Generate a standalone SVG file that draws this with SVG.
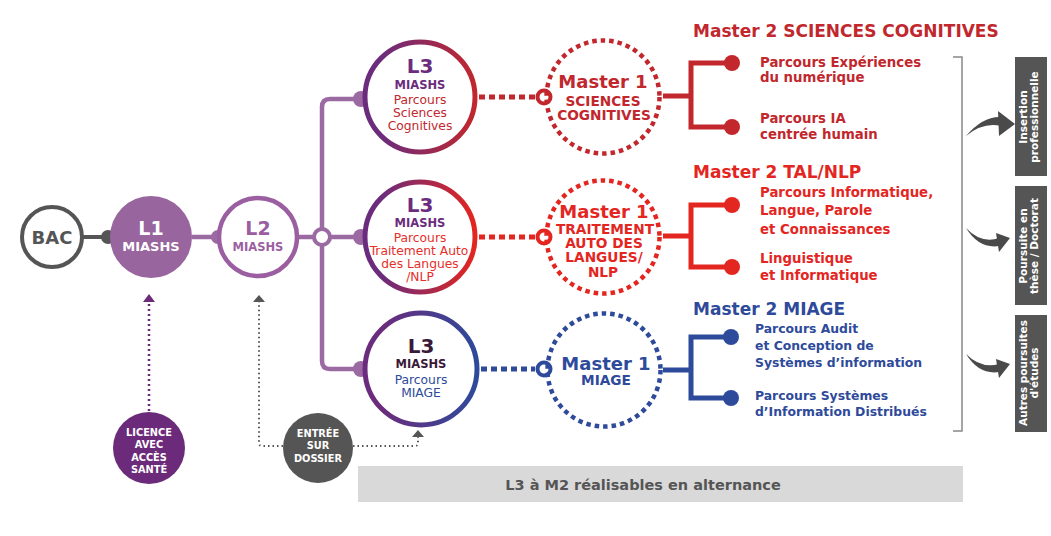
<svg xmlns="http://www.w3.org/2000/svg" width="1051" height="536" viewBox="0 0 1051 536">
<defs>
<style>
text{font-family:'DejaVu Sans','Liberation Sans',sans-serif;}
.b{font-weight:bold;}
.m{text-anchor:middle;}
.pl{fill:none;stroke:#9C6AA3;stroke-width:4.5;}
.pd{fill:#9C6AA3;}
.l3t{font-size:20px;font-weight:bold;text-anchor:middle;}
.l3m{font-size:11.5px;font-weight:bold;text-anchor:middle;}
.l3p{font-size:12.3px;text-anchor:middle;}
.m1t{font-size:18px;font-weight:bold;text-anchor:middle;}
.m1s{font-size:13.7px;font-weight:bold;text-anchor:middle;}
.m2h{font-size:17px;font-weight:bold;}
.pr{font-size:13.3px;font-weight:bold;}
.pb{font-size:12.4px;font-weight:bold;}
.bx{fill:#555555;}
.bxt{font-size:10.5px;font-weight:bold;fill:#ffffff;text-anchor:middle;}
.sm{font-size:9.8px;font-weight:bold;fill:#ffffff;text-anchor:middle;}
.sw{fill:#4a4a4a;}
</style>
<linearGradient id="gTop" x1="0" y1="0" x2="1" y2="0"><stop offset="0.15" stop-color="#6B2C7D"/><stop offset="1" stop-color="#C1272D"/></linearGradient>
<linearGradient id="gMid" x1="0" y1="0" x2="1" y2="0"><stop offset="0.15" stop-color="#6B2C7D"/><stop offset="1" stop-color="#E3261F"/></linearGradient>
<linearGradient id="gBot" x1="0" y1="0" x2="1" y2="0"><stop offset="0.15" stop-color="#6B2C7D"/><stop offset="1" stop-color="#2E4A9A"/></linearGradient>
</defs>
<rect width="1051" height="536" fill="#ffffff"/>

<g id="connectors">
  <line x1="82" y1="237" x2="110" y2="237" stroke="#555555" stroke-width="4"/>
  <circle cx="108" cy="237" r="7" fill="#555555"/>
  <line x1="192" y1="237" x2="218" y2="237" class="pl"/>
  <circle cx="218" cy="237" r="7" class="pd"/>
  <line x1="299" y1="237" x2="314" y2="237" class="pl"/>
  <path d="M361 99 H330 Q322 99 322 107 V361 Q322 369 330 369 H361" class="pl"/>
  <line x1="330" y1="237" x2="361" y2="237" class="pl"/>
  <circle cx="322" cy="237" r="8" fill="#ffffff" stroke="#9C6AA3" stroke-width="4"/>
  <circle cx="361" cy="99" r="8" class="pd"/>
  <circle cx="361" cy="237" r="8" class="pd"/>
  <circle cx="361" cy="369" r="8" class="pd"/>
  <line x1="479" y1="97" x2="535" y2="97" stroke="#C1272D" stroke-width="5" stroke-dasharray="6 4"/>
  <circle cx="544" cy="97" r="6.5" fill="#ffffff" stroke="#C1272D" stroke-width="4"/>
  <line x1="479" y1="237" x2="535" y2="237" stroke="#E3261F" stroke-width="5" stroke-dasharray="6 4"/>
  <circle cx="544" cy="237" r="6.5" fill="#ffffff" stroke="#E3261F" stroke-width="4"/>
  <line x1="481" y1="369" x2="535" y2="369" stroke="#2E4A9A" stroke-width="5" stroke-dasharray="6 4"/>
  <circle cx="544" cy="369" r="6.5" fill="#ffffff" stroke="#2E4A9A" stroke-width="4"/>
  <path d="M663 96 H691 M732 63 H691 V127 H732" fill="none" stroke="#C1272D" stroke-width="5"/>
  <circle cx="732" cy="63" r="8" fill="#C1272D"/>
  <circle cx="732" cy="127" r="8" fill="#C1272D"/>
  <path d="M663 236 H691 M732 205 H691 V267 H732" fill="none" stroke="#E3261F" stroke-width="5"/>
  <circle cx="732" cy="205" r="8" fill="#E3261F"/>
  <circle cx="732" cy="267" r="8" fill="#E3261F"/>
  <path d="M663 370 H691 M731 337 H691 V398 H731" fill="none" stroke="#2E4A9A" stroke-width="5"/>
  <circle cx="731" cy="337" r="8" fill="#2E4A9A"/>
  <circle cx="731" cy="398" r="8" fill="#2E4A9A"/>
  <line x1="149" y1="411" x2="149" y2="302" stroke="#6C2A7A" stroke-width="2.5" stroke-dasharray="2 3"/>
  <polygon points="143,302 155,302 149,294" fill="#6C2A7A"/>
  <path d="M283 446 H262 Q259 446 259 443 V302" fill="none" stroke="#555555" stroke-width="2" stroke-dasharray="1.5 3"/>
  <polygon points="253,302 265,302 259,295" fill="#555555"/>
  <path d="M353 446 H415 Q418 446 418 443 V437" fill="none" stroke="#555555" stroke-width="2" stroke-dasharray="1.5 3"/>
  <polygon points="412,437 424,437 418,430" fill="#555555"/>
  <path d="M953 57 H962 V431 H953" fill="none" stroke="#888888" stroke-width="1.5"/>
  <path class="sw" d="M966 136 Q983 116 1001 117 L1001 126 Q983 122 966 136 Z"/>
  <polygon class="sw" points="998,111 1015,124 999,136"/>
  <path class="sw" d="M966 228 Q981 244 999 238 L999 246 Q979 249 966 228 Z"/>
  <polygon class="sw" points="996,233 1010,238 999,252"/>
  <path class="sw" d="M966 354 Q981 369 999 364 L999 372 Q979 375 966 354 Z"/>
  <polygon class="sw" points="996,359 1010,364 999,378"/>
</g>

<g id="bac">
  <circle cx="52" cy="237" r="30" fill="#ffffff" stroke="#555555" stroke-width="4"/>
  <text x="52" y="244" class="b m" font-size="18" fill="#555555">BAC</text>
</g>
<g id="l1">
  <circle cx="151" cy="237" r="41" fill="#98659E"/>
  <text x="151" y="235" class="b m" font-size="19" fill="#ffffff">L1</text>
  <text x="151" y="251" class="b m" font-size="13" fill="#ffffff">MIASHS</text>
</g>
<g id="l2">
  <circle cx="258" cy="237" r="39" fill="#ffffff" stroke="#9B5EA1" stroke-width="4.5"/>
  <text x="258" y="235" class="b m" font-size="19" fill="#9B5EA1">L2</text>
  <text x="258" y="251" class="b m" font-size="11.5" fill="#9B5EA1">MIASHS</text>
</g>

<g id="l3-sc">
  <circle cx="420" cy="97" r="55" fill="#ffffff" stroke="url(#gTop)" stroke-width="5"/>
  <text x="420" y="73" class="l3t" fill="#6B2C7D">L3</text>
  <text x="420" y="89" class="l3m" fill="#6B2C7D">MIASHS</text>
  <text x="420" y="104" class="l3p" fill="#C1272D">Parcours</text>
  <text x="420" y="117" class="l3p" fill="#C1272D">Sciences</text>
  <text x="420" y="130" class="l3p" fill="#C1272D">Cognitives</text>
</g>
<g id="l3-tal">
  <circle cx="420" cy="237" r="55" fill="#ffffff" stroke="url(#gMid)" stroke-width="5"/>
  <text x="420" y="212" class="l3t" fill="#6B2C7D">L3</text>
  <text x="420" y="227" class="l3m" fill="#6B2C7D">MIASHS</text>
  <text x="420" y="242" class="l3p" fill="#E5302A">Parcours</text>
  <text x="419" y="255" class="l3p" fill="#E5302A">Traitement Auto</text>
  <text x="420" y="268" class="l3p" fill="#E5302A">des Langues</text>
  <text x="420" y="281" class="l3p" fill="#E5302A">/NLP</text>
</g>
<g id="l3-miage">
  <circle cx="421" cy="369" r="56" fill="#ffffff" stroke="url(#gBot)" stroke-width="5"/>
  <text x="421" y="353" class="l3t" fill="#3A1838">L3</text>
  <text x="421" y="368" class="l3m" fill="#3A1838">MIASHS</text>
  <text x="421" y="384" class="l3p" fill="#2E4A9A">Parcours</text>
  <text x="421" y="397" class="l3p" fill="#2E4A9A">MIAGE</text>
</g>

<g id="m1-sc">
  <circle cx="603" cy="97" r="56.5" fill="none" stroke="#C1272D" stroke-width="4.5" stroke-dasharray="4.5 4"/>
  <text x="603" y="88" class="m1t" fill="#C1272D">Master 1</text>
  <text x="603" y="106" class="m1s" fill="#C1272D">SCIENCES</text>
  <text x="604" y="120" class="m1s" fill="#C1272D">COGNITIVES</text>
</g>
<g id="m1-tal">
  <circle cx="603" cy="237" r="56.5" fill="none" stroke="#E3261F" stroke-width="4.5" stroke-dasharray="4.5 4"/>
  <text x="604" y="218" class="m1t" fill="#E3261F">Master 1</text>
  <text x="605" y="234" class="m1s" fill="#E3261F">TRAITEMENT</text>
  <text x="604" y="248" class="m1s" fill="#E3261F">AUTO DES</text>
  <text x="604" y="262" class="m1s" fill="#E3261F">LANGUES/</text>
  <text x="603" y="277" class="m1s" fill="#E3261F">NLP</text>
</g>
<g id="m1-miage">
  <circle cx="604" cy="370" r="56.5" fill="none" stroke="#2E4A9A" stroke-width="4.5" stroke-dasharray="4.5 4"/>
  <text x="606" y="370" class="m1t" fill="#2E4A9A">Master 1</text>
  <text x="606" y="385" class="m1s" fill="#2E4A9A">MIAGE</text>
</g>

<g id="m2-sc">
  <text x="693" y="37" class="m2h" fill="#C1272D">Master 2 SCIENCES COGNITIVES</text>
  <text x="760" y="67" class="pr" fill="#C1272D">Parcours Expériences</text>
  <text x="760" y="82" class="pr" fill="#C1272D">du numérique</text>
  <text x="760" y="123" class="pr" fill="#C1272D">Parcours IA</text>
  <text x="760" y="139" class="pr" fill="#C1272D">centrée humain</text>
</g>
<g id="m2-tal">
  <text x="693" y="178" class="m2h" fill="#E3261F">Master 2 TAL/NLP</text>
  <text x="760" y="197" class="pr" fill="#E3261F">Parcours Informatique,</text>
  <text x="760" y="215" class="pr" fill="#E3261F">Langue, Parole</text>
  <text x="760" y="234" class="pr" fill="#E3261F">et Connaissances</text>
  <text x="760" y="263" class="pr" fill="#E3261F">Linguistique</text>
  <text x="760" y="280" class="pr" fill="#E3261F">et Informatique</text>
</g>
<g id="m2-miage">
  <text x="693" y="315" class="m2h" fill="#2E4A9A">Master 2 MIAGE</text>
  <text x="755" y="333" class="pb" fill="#2E4A9A">Parcours Audit</text>
  <text x="755" y="350" class="pb" fill="#2E4A9A">et Conception de</text>
  <text x="755" y="367" class="pb" fill="#2E4A9A">Systèmes d’information</text>
  <text x="755" y="400" class="pb" fill="#2E4A9A">Parcours Systèmes</text>
  <text x="755" y="416" class="pb" fill="#2E4A9A">d’Information Distribués</text>
</g>

<g id="out-insertion">
  <rect x="1015" y="57" width="32" height="119" class="bx"/>
  <g transform="translate(1031 117) rotate(-90)">
    <text x="0" y="-4" class="bxt">Insertion</text>
    <text x="0" y="7" class="bxt">professionnelle</text>
  </g>
</g>
<g id="out-these">
  <rect x="1015" y="186" width="32" height="119" class="bx"/>
  <g transform="translate(1031 246) rotate(-90)">
    <text x="0" y="-4" class="bxt">Poursuite en</text>
    <text x="0" y="7" class="bxt">thèse / Doctorat</text>
  </g>
</g>
<g id="out-autres">
  <rect x="1015" y="315" width="32" height="117" class="bx"/>
  <g transform="translate(1031 373) rotate(-90)">
    <text x="0" y="-4" class="bxt">Autres poursuites</text>
    <text x="0" y="7" class="bxt">d'études</text>
  </g>
</g>

<g id="licence-sante">
  <circle cx="149" cy="448" r="36" fill="#6C2A7A"/>
  <text x="149" y="436" class="sm">LICENCE</text>
  <text x="149" y="448" class="sm">AVEC</text>
  <text x="149" y="461" class="sm">ACCÈS</text>
  <text x="149" y="473" class="sm">SANTÉ</text>
</g>
<g id="entree-dossier">
  <circle cx="318" cy="448" r="35" fill="#555555"/>
  <text x="318" y="437" class="sm">ENTRÉE</text>
  <text x="318" y="449" class="sm">SUR</text>
  <text x="318" y="462" class="sm">DOSSIER</text>
</g>

<g id="alternance">
  <rect x="358" y="466" width="605" height="36" fill="#D9D9D9"/>
  <text x="643" y="490" class="b m" font-size="14.5" fill="#555555">L3 à M2 réalisables en alternance</text>
</g>
</svg>
